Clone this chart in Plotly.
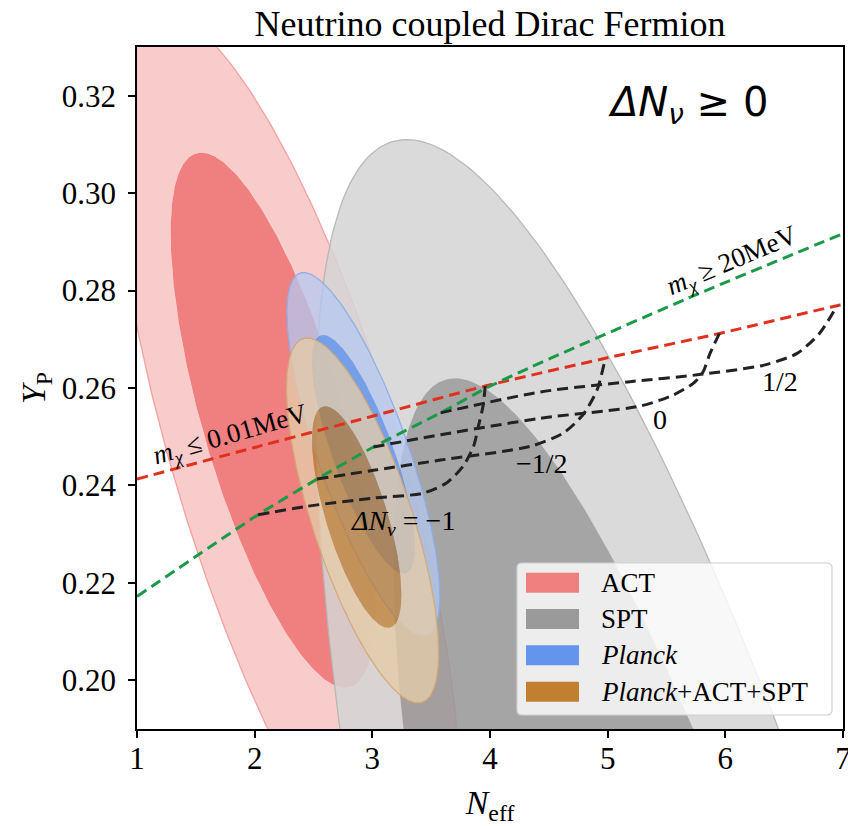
import numpy as np
import plotly.graph_objects as go

# Confidence regions in the (N_eff, Y_P) plane, each as an ellipse:
# (N_eff centre, Y_P centre, N_eff half-extent, Y_P half-extent, correlation)
ACT_68 = (2.157, 0.2534, 0.871, 0.0549, -0.700)
ACT_95 = (2.275, 0.2450, 1.468, 0.0924, -0.732)
SPT_68 = (5.880, 0.0640, 2.700, 0.1980, -0.806)
SPT_95 = (5.970, 0.0610, 3.450, 0.2500, -0.776)
PLANCK_68 = (2.924, 0.2464, 0.437, 0.0245, -0.780)
PLANCK_95 = (2.924, 0.2464, 0.650, 0.0373, -0.780)
COMBINED_68 = (2.867, 0.2335, 0.380, 0.02275, -0.700)
COMBINED_95 = (2.917, 0.2328, 0.647, 0.03745, -0.726)

# Mass-limit loci
LIGHT_NEFF = [1.0, 2.0, 3.0, 3.96, 4.98, 5.95, 6.95, 7.0]
LIGHT_YP = [0.2413, 0.2478, 0.2542, 0.2604, 0.2661, 0.2712, 0.2769, 0.2771]
HEAVY_NEFF = [1.0, 2.03, 2.53, 3.01, 3.58, 3.97, 4.34, 5.67, 7.0]
HEAVY_YP = [0.2172, 0.2340, 0.2413, 0.2479, 0.2549, 0.2600, 0.2642, 0.2783, 0.2917]

# Curves of constant Delta N_nu between the two mass limits
DN_LABELS = ["-1", "-1/2", "0", "1/2"]
DN_NEFF = [
    [2.03, 2.44, 3.01, 3.43, 3.63, 3.77, 3.86, 3.90, 3.94, 3.96],
    [2.53, 3.01, 3.58, 4.34, 4.62, 4.79, 4.91, 4.98],
    [3.01, 3.58, 4.43, 5.28, 5.56, 5.73, 5.81, 5.87, 5.95],
    [3.58, 4.43, 5.19, 5.76, 6.33, 6.61, 6.80, 6.95],
]
DN_YP = [
    [0.2340, 0.2357, 0.2374, 0.2384, 0.2405, 0.2439, 0.2480, 0.2520, 0.2562, 0.2604],
    [0.2413, 0.2431, 0.2452, 0.2480, 0.2507, 0.2545, 0.2596, 0.2661],
    [0.2479, 0.2504, 0.2538, 0.2563, 0.2586, 0.2610, 0.2633, 0.2671, 0.2712],
    [0.2549, 0.2592, 0.2613, 0.2627, 0.2647, 0.2671, 0.2712, 0.2769],
]

LEGEND_NAMES = ["ACT", "SPT", "<i>Planck</i>", "<i>Planck</i>+ACT+SPT"]
LEGEND_COLORS = ["#f08080", "#9a9a9a", "#6495ed", "#c08030"]

SERIF = "Liberation Serif"


def ellipse(p, n=361):
    cx, cy, sx, sy, rho = p
    t = np.linspace(0.0, 2.0 * np.pi, n)
    x = cx + sx * np.cos(t)
    y = cy + sy * (rho * np.cos(t) + np.sqrt(1.0 - rho ** 2) * np.sin(t))
    return x, y


fig = go.Figure()


def add_region(outer, inner, ring_color, core_color, edge_color):
    ox, oy = ellipse(outer)
    ix, iy = ellipse(inner)
    # outer ring with the inner region cut out (reverse winding)
    fig.add_trace(go.Scatter(
        x=np.concatenate([ox, ix[::-1]]), y=np.concatenate([oy, iy[::-1]]),
        mode="lines", fill="toself", fillcolor=ring_color,
        line=dict(width=0), hoverinfo="skip", showlegend=False))
    fig.add_trace(go.Scatter(
        x=ix, y=iy, mode="lines", fill="toself", fillcolor=core_color,
        line=dict(width=0), hoverinfo="skip", showlegend=False))
    fig.add_trace(go.Scatter(
        x=ox, y=oy, mode="lines", line=dict(color=edge_color, width=1.3),
        hoverinfo="skip", showlegend=False))


add_region(ACT_95, ACT_68, "rgba(240,128,128,0.40)", "rgba(240,128,128,1.0)",
           "rgba(240,140,140,0.75)")
add_region(SPT_95, SPT_68, "rgba(212,212,212,0.86)", "rgba(150,150,150,0.86)",
           "rgba(180,180,180,0.9)")
add_region(PLANCK_95, PLANCK_68, "rgba(180,200,242,0.75)", "rgba(100,149,237,0.85)",
           "rgba(140,172,232,0.9)")
add_region(COMBINED_95, COMBINED_68, "rgba(228,204,168,0.78)", "rgba(188,124,45,0.72)",
           "rgba(210,168,115,0.9)")

dash = "11px,6px"
fig.add_trace(go.Scatter(x=LIGHT_NEFF, y=LIGHT_YP, mode="lines",
                         line=dict(color="#e0301e", width=3, dash=dash, shape="spline", smoothing=0.6),
                         hoverinfo="skip", showlegend=False))
fig.add_trace(go.Scatter(x=HEAVY_NEFF, y=HEAVY_YP, mode="lines",
                         line=dict(color="#1a9a48", width=3, dash=dash, shape="spline", smoothing=0.6),
                         hoverinfo="skip", showlegend=False))
for xs, ys in zip(DN_NEFF, DN_YP):
    fig.add_trace(go.Scatter(x=xs, y=ys, mode="lines",
                             line=dict(color="#222222", width=3, dash=dash, shape="spline", smoothing=0.7),
                             hoverinfo="skip", showlegend=False))

annotations = [
    dict(x=3.263, y=0.2323, text="<i>ΔN<sub>ν</sub></i> = −1", font=dict(family=SERIF, size=28)),
    dict(x=4.44, y=0.2446, text="−1/2", font=dict(family=SERIF, size=28)),
    dict(x=5.445, y=0.2536, text="0", font=dict(family=SERIF, size=28)),
    dict(x=6.465, y=0.2613, text="1/2", font=dict(family=SERIF, size=28)),
    dict(x=1.793, y=0.2502, text="<i>m<sub>χ</sub></i> ≤ 0.01MeV", textangle=-16,
         font=dict(family=SERIF, size=27)),
    dict(x=6.059, y=0.2859, text="<i>m<sub>χ</sub></i> ≥ 20MeV", textangle=-23,
         font=dict(family=SERIF, size=27)),
    dict(x=5.68, y=0.318, text="<i>ΔN<sub>ν</sub></i> ≥ 0", font=dict(family="DejaVu Sans", size=40)),
]
for a in annotations:
    a.update(xref="x", yref="y", showarrow=False, xanchor="center", yanchor="middle")
    a["font"]["color"] = "black"

# legend panel (paper coordinates of the plot area)
PW, PH = 706.0, 682.0
def px_to_paper(px, py):
    return (px - 137.0) / PW, (729.0 - py) / PH

bx0, by1 = px_to_paper(517, 563)
bx1, by0 = px_to_paper(832, 715)
rx, ry = 5 / PW, 5 / PH
box_path = (f"M{bx0 + rx},{by0} L{bx1 - rx},{by0} Q{bx1},{by0} {bx1},{by0 + ry} "
            f"L{bx1},{by1 - ry} Q{bx1},{by1} {bx1 - rx},{by1} L{bx0 + rx},{by1} "
            f"Q{bx0},{by1} {bx0},{by1 - ry} L{bx0},{by0 + ry} Q{bx0},{by0} {bx0 + rx},{by0} Z")
shapes = [dict(type="path", xref="paper", yref="paper", path=box_path,
               fillcolor="rgba(255,255,255,0.8)", line=dict(color="#d0d0d0", width=1.2), layer="above")]
row_py = [582.7, 619.0, 655.3, 691.7]
for name, col, py in zip(LEGEND_NAMES, LEGEND_COLORS, row_py):
    x0, yc = px_to_paper(526, py)
    x1, _ = px_to_paper(579, py)
    hh = 10 / PH
    shapes.append(dict(type="rect", xref="paper", yref="paper", x0=x0, x1=x1, y0=yc - hh, y1=yc + hh,
                       fillcolor=col, line=dict(width=0), layer="above"))
    tx, _ = px_to_paper(599, py)
    annotations.append(dict(x=tx, y=yc, xref="paper", yref="paper", text=name, showarrow=False,
                            xanchor="left", yanchor="middle",
                            font=dict(family=SERIF, size=27, color="black")))

fig.update_layout(
    width=848, height=826,
    margin=dict(l=137, r=5, t=47, b=97, autoexpand=False),
    paper_bgcolor="white", plot_bgcolor="white",
    title=dict(text="Neutrino coupled Dirac Fermion", x=0.5, xref="paper", xanchor="center",
               y=1 - 23 / 826, yref="container", yanchor="middle",
               font=dict(family=SERIF, size=36, color="black")),
    annotations=annotations, shapes=shapes, showlegend=False,
)
fig.update_xaxes(range=[1, 7], tickvals=[1, 2, 3, 4, 5, 6, 7], ticks="outside", ticklen=7, tickwidth=1.5,
                 tickcolor="black", showline=True, linecolor="black", linewidth=1.5, mirror=True,
                 showgrid=False, zeroline=False, ticklabelstandoff=-6, ticklabeloverflow="allow",
                 tickfont=dict(family=SERIF, size=31, color="black"),
                 title=dict(text="<i>N</i><sub>eff</sub>", standoff=16,
                            font=dict(family=SERIF, size=34, color="black")))
fig.update_yaxes(range=[0.19, 0.33], tickvals=[0.20, 0.22, 0.24, 0.26, 0.28, 0.30, 0.32],
                 tickformat=".2f", ticks="outside", ticklen=7, tickwidth=1.5, tickcolor="black",
                 showline=True, linecolor="black", linewidth=1.5, mirror=True,
                 showgrid=False, zeroline=False, ticklabelstandoff=6, ticklabeloverflow="allow",
                 tickfont=dict(family=SERIF, size=31, color="black"),
                 title=dict(text="<i>Y</i><sub>P</sub>", standoff=6,
                            font=dict(family=SERIF, size=34, color="black")))

fig.write_html("out.html")
